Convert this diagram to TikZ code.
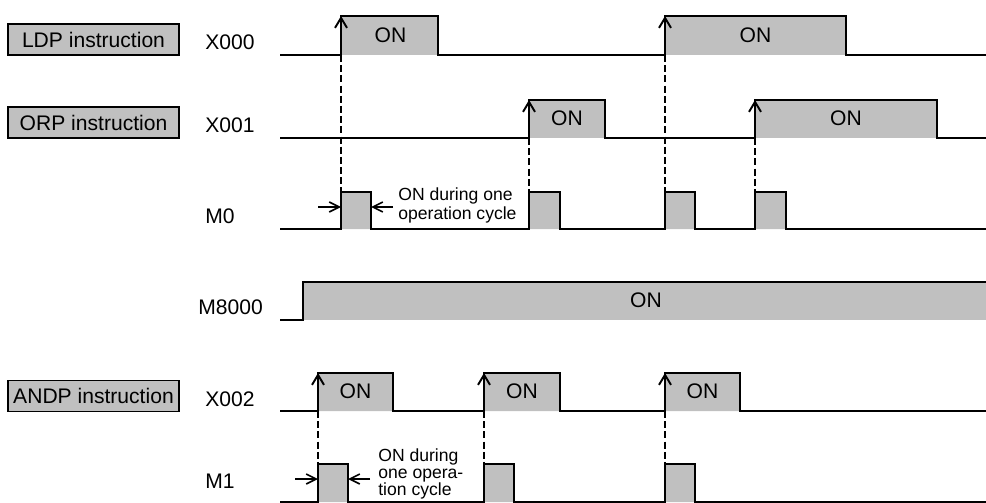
\documentclass[tikz,border=0pt]{standalone}
\usepackage{fontspec}
\setmainfont{Liberation Sans}
\usetikzlibrary{positioning,arrows.meta}
\definecolor{ongray}{RGB}{192,192,192}
\tikzset{
  wave/.style={line width=1.2pt, line join=miter},
  onfill/.style={fill=ongray},
  riseedge/.style={-{Straight Barb[length=2mm, width=2.4mm]}, line width=1.1pt},
  guide/.style={dash pattern=on 4pt off 1.8pt, line width=0.9pt},
  cyclearrow/.style={-{Straight Barb[length=2mm, width=2mm]}, line width=0.9pt},
  instbox/.style={draw, line width=0.6pt, fill=ongray, minimum width=3.42cm, minimum height=0.62cm, inner sep=0pt},
  signame/.style={anchor=west, inner sep=0pt},
  onlabel/.style={inner sep=0pt},
  cyclenote/.style={anchor=west, align=left, inner sep=0pt, font=\fontsize{10}{9.2}\selectfont}
}

\begin{document}
\begin{tikzpicture}[x=0.02cm, y=-0.02cm, every node/.style={font=\fontsize{12}{14}\selectfont}]
  \useasboundingbox (0,0) rectangle (986,503);

  % instruction boxes and signal names
  \node[instbox] (ldp) at (93.5,39.5) {LDP instruction};
  \node[instbox] (orp) at (93.5,122.5) {ORP instruction};
  \node[instbox] (andp) at (93.5,396) {ANDP instruction};
  \node[signame] (x000) at (205,42) {X000};
  \node[signame] (x001) at (205,125) {X001};
  \node[signame] (m0) at (205,216) {M0};
  \node[signame] (m8000) at (198,307) {M8000};
  \node[signame] (x002) at (205,399) {X002};
  \node[signame] (m1) at (205,481) {M1};

  % edges used by the guides
  \coordinate (x0up1) at (341,55);
  \coordinate (x0up2) at (665,55);
  \coordinate (x1up1) at (529,138);
  \coordinate (x1up2) at (755,138);
  \coordinate (m0p1) at (341,192);
  \coordinate (m0p2) at (529,192);
  \coordinate (m0p3) at (665,192);
  \coordinate (m0p4) at (755,192);
  \coordinate (x2up1) at (318,411);
  \coordinate (x2up2) at (484,411);
  \coordinate (x2up3) at (665,411);
  \coordinate (m1p1) at (318,464);
  \coordinate (m1p2) at (484,464);
  \coordinate (m1p3) at (665,464);

  % X000
  \fill[onfill] (341,16) rectangle (438,55) (665,16) rectangle (846,55);
  \draw[wave] (280,55) -| (341,16) -| (438,55) -| (665,16) -| (846,55) -- (986,55);
  \node[onlabel] (x0on1) at (390.5,35) {ON};
  \node[onlabel] (x0on2) at (755.5,35) {ON};

  % X001
  \fill[onfill] (529,100) rectangle (605,138) (755,100) rectangle (937,138);
  \draw[wave] (280,138) -| (529,100) -| (605,138) -| (755,100) -| (937,138) -- (986,138);
  \node[onlabel] (x1on1) at (567,118) {ON};
  \node[onlabel] (x1on2) at (846,118) {ON};

  % M0
  \fill[onfill] (341,192) rectangle (371,229) (529,192) rectangle (560,229)
                (665,192) rectangle (695,229) (755,192) rectangle (786,229);
  \draw[wave] (280,229) -| (341,192) -| (371,229) -| (529,192) -| (560,229)
              -| (665,192) -| (695,229) -| (755,192) -| (786,229) -- (986,229);

  % M8000
  \fill[onfill] (303,282) rectangle (986,320);
  \draw[wave] (280,320) -| (303,282) -- (986,282);
  \node[onlabel] (m8on) at (646,300) {ON};

  % X002
  \fill[onfill] (318,373) rectangle (393,411) (484,373) rectangle (560,411) (665,373) rectangle (740,411);
  \draw[wave] (280,411) -| (318,373) -| (393,411) -| (484,373) -| (560,411) -| (665,373) -| (740,411) -- (986,411);
  \node[onlabel] (x2on1) at (355.5,391) {ON};
  \node[onlabel] (x2on2) at (522,391) {ON};
  \node[onlabel] (x2on3) at (702.5,391) {ON};

  % M1
  \fill[onfill] (318,464) rectangle (348,502) (484,464) rectangle (514,502) (665,464) rectangle (695,502);
  \draw[wave] (280,502) -| (318,464) -| (348,502) -| (484,464) -| (514,502) -| (665,464) -| (695,502) -- (986,502);

  % rising edge arrows
  \foreach \p/\h in {x0up1/39, x0up2/39, x1up1/38, x1up2/38, x2up1/38, x2up2/38, x2up3/38}
    \draw[riseedge] (\p) -- ++(0,-\h);

  % guides
  \draw[guide] (x0up1) -- (m0p1);
  \draw[guide] (x1up1) -- (m0p2);
  \draw[guide] (x0up2) -- (m0p3);
  \draw[guide] (x1up2) -- (m0p4);
  \draw[guide] (x2up1) -- (m1p1);
  \draw[guide] (x2up2) -- (m1p2);
  \draw[guide] (x2up3) -- (m1p3);

  % one operation cycle
  \coordinate (m0l) at (318,207);
  \coordinate (m0a) at (341,207);
  \coordinate (m0b) at (371,207);
  \coordinate (m0r) at (393,207);
  \draw[cyclearrow] (m0l) -- (m0a);
  \draw[cyclearrow] (m0r) -- (m0b);
  \node[cyclenote] (m0note) at (398,205.5) {ON during one\\operation cycle};

  \coordinate (m1l) at (295,479);
  \coordinate (m1a) at (318,479);
  \coordinate (m1b) at (348,479);
  \coordinate (m1r) at (370,479);
  \draw[cyclearrow] (m1l) -- (m1a);
  \draw[cyclearrow] (m1r) -- (m1b);
  \node[cyclenote, font=\fontsize{10}{9.7}\selectfont] (m1note) at (378,473.5) {ON during\\one opera-\\tion cycle};
\end{tikzpicture}
\end{document}
